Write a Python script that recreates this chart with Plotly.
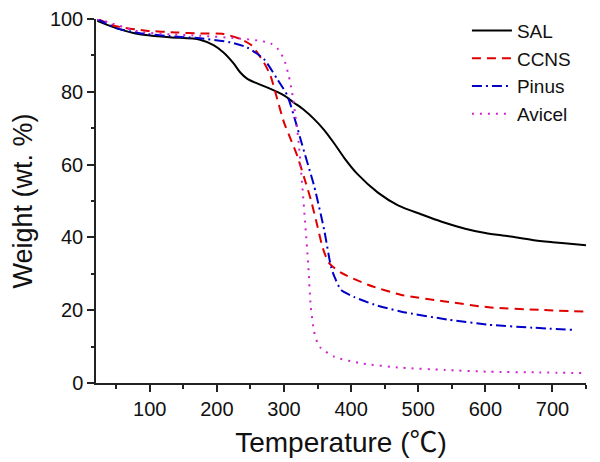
import plotly.graph_objects as go

# ---- data ----
sal_T = [22, 50, 85, 130, 175, 195, 210, 225, 235, 245, 260, 280, 300, 315, 330, 345, 360, 375,
         390, 410, 440, 470, 505, 535, 570, 600, 635, 670, 700, 730, 752]
sal_W = [99.5, 97.5, 95.8, 95.0, 94.3, 92.8, 90.8, 87.8, 85.3, 83.6, 82.3, 80.8, 79.0, 77.0,
         75.0, 72.5, 69.5, 65.8, 61.8, 57.3, 52.3, 48.8, 46.3, 44.3, 42.4, 41.2, 40.3, 39.3,
         38.7, 38.2, 37.8]

ccns_T = [22, 50, 95, 140, 175, 210, 235, 252, 270, 280, 290, 300, 310, 320, 330, 340, 350,
          358, 367, 385, 425, 475, 540, 605, 680, 750]
ccns_W = [100, 98.0, 96.8, 96.3, 96.0, 95.9, 94.5, 92.7, 88.1, 84.4, 78.0, 71.6, 67.0, 62.3,
          56.5, 50.4, 43.0, 37.0, 33.0, 30.3, 27.0, 24.2, 22.4, 20.8, 20.1, 19.6]

pinus_T = [22, 50, 85, 130, 175, 220, 245, 270, 290, 305, 317, 327, 345, 360, 370, 375, 385,
           405, 435, 475, 545, 605, 670, 730]
pinus_W = [100, 97.5, 96.1, 95.3, 94.7, 93.6, 92.2, 89.0, 83.5, 79.0, 72.0, 65.5, 54.1, 42.0,
           32.0, 29.3, 25.6, 23.6, 21.5, 19.6, 17.4, 16.0, 15.2, 14.6]

avicel_T = [22, 40, 85, 130, 175, 230, 265, 280, 290, 300, 307, 312, 317, 322, 327, 332, 336,
            340, 345, 350, 355, 375, 415, 475, 540, 605, 680, 750]
avicel_W = [100, 99.0, 96.5, 95.8, 95.4, 94.7, 94.0, 93.3, 92.0, 89.0, 84.5, 80.0, 73.5, 66.0,
            55.0, 43.0, 33.0, 21.0, 14.0, 11.0, 9.6, 7.2, 5.4, 4.2, 3.6, 3.1, 2.9, 2.7]

x_ticks = [100, 200, 300, 400, 500, 600, 700]
y_ticks = [0, 20, 40, 60, 80, 100]

FONT = "Liberation Sans, Arial, Noto Sans CJK SC, sans-serif"

fig = go.Figure()
fig.add_trace(go.Scatter(x=sal_T, y=sal_W, name="SAL", mode="lines",
                         line=dict(color="#000000", width=2, shape="spline", smoothing=0.9)))
fig.add_trace(go.Scatter(x=ccns_T, y=ccns_W, name="CCNS", mode="lines",
                         line=dict(color="#E00000", width=2, dash="9px,6px", shape="spline", smoothing=0.6)))
fig.add_trace(go.Scatter(x=pinus_T, y=pinus_W, name="Pinus", mode="lines",
                         line=dict(color="#0000C8", width=2, dash="10px,4px,2px,4px", shape="spline", smoothing=0.6)))
fig.add_trace(go.Scatter(x=avicel_T, y=avicel_W, name="Avicel", mode="lines",
                         line=dict(color="#D020D0", width=2, dash="2px,6px", shape="spline", smoothing=0.6)))

# page body has an 8px default margin, so the figure is drawn 8px smaller and offset
fig.update_layout(
    width=592, height=454,
    margin=dict(l=88, r=14, t=11, b=79, autoexpand=False),
    paper_bgcolor="white", plot_bgcolor="white",
    font=dict(family=FONT, color="#111111", size=20),
    showlegend=True,
    legend=dict(x=0.757, y=1.02, xanchor="left", yanchor="top", bgcolor="rgba(0,0,0,0)",
                borderwidth=0, font=dict(size=19, family=FONT, color="#111111"),
                itemwidth=40, tracegroupgap=0),
    xaxis=dict(range=[20, 750], tickvals=x_ticks, ticks="outside", ticklen=7, tickwidth=1.5,
               tickcolor="#222", showline=True, linecolor="#222", linewidth=1.5,
               showgrid=False, zeroline=False, tickfont=dict(size=20, family=FONT),
               automargin=False,
               minor=dict(tickvals=[50, 150, 250, 350, 450, 550, 650, 750], ticks="outside",
                          ticklen=4, tickcolor="#222", tickwidth=1.5),
               title=dict(text="Temperature (℃)", font=dict(size=28, family=FONT), standoff=14)),
    yaxis=dict(range=[0, 100], tickvals=y_ticks, ticks="outside", ticklen=7, tickwidth=1.5,
               tickcolor="#222", showline=True, linecolor="#222", linewidth=1.5,
               showgrid=False, zeroline=False, tickfont=dict(size=20, family=FONT),
               automargin=False,
               minor=dict(tickvals=[10, 30, 50, 70, 90], ticks="outside",
                          ticklen=3, tickcolor="#222", tickwidth=1.5),
               title=dict(text="Weight (wt. %)", font=dict(size=27, family=FONT), standoff=14)),
)

fig.write_html("out.html")
